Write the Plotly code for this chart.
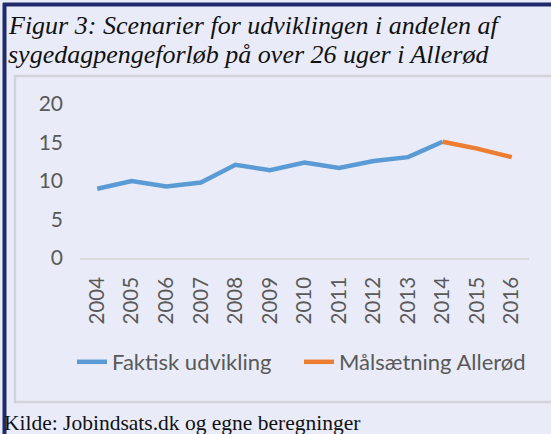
import plotly.graph_objects as go

# Years on the category axis
years = ["2004", "2005", "2006", "2007", "2008", "2009", "2010",
         "2011", "2012", "2013", "2014", "2015", "2016"]

# Actual development 2004-2014 (share of sickness benefit cases > 26 weeks)
actual_years = years[:11]
actual_values = [9.0, 10.0, 9.3, 9.8, 12.1, 11.4, 12.4, 11.7, 12.6, 13.1, 15.1]

# Allerød target 2014-2016
target_years = years[10:]
target_values = [15.1, 14.2, 13.1]

y_ticks = [0, 5, 10, 15, 20]

W, H = 551, 434
BG = "#E9ECF8"
NAVY = "#1E2A6B"
TICK_GRAY = "#595959"


def px_x(px):
    return px / W


def px_y(px):
    return 1 - px / H


fig = go.Figure()
fig.add_trace(go.Scatter(
    x=actual_years, y=actual_values, mode="lines",
    name="Faktisk udvikling",
    line=dict(color="#5B9BD5", width=4.5),
))
fig.add_trace(go.Scatter(
    x=target_years, y=target_values, mode="lines",
    name="Målsætning Allerød",
    line=dict(color="#ED7D31", width=4.5),
))

fig.update_layout(
    width=W, height=H,
    margin=dict(l=0, r=0, t=0, b=0, autoexpand=False),
    paper_bgcolor=BG, plot_bgcolor=BG,
    font=dict(family="Lato", color=TICK_GRAY, size=20),
    showlegend=True,
    legend=dict(
        orientation="h", x=px_x(299), xanchor="center",
        y=px_y(362), yanchor="middle",
        font=dict(family="Lato", size=22, color=TICK_GRAY),
        bgcolor="rgba(0,0,0,0)", itemwidth=30, tracegroupgap=0,
        entrywidth=182, entrywidthmode="pixels",
    ),
    xaxis=dict(
        type="category", categoryorder="array", categoryarray=years,
        range=[-0.5, 12.5],
        domain=[px_x(80), px_x(529)],
        showgrid=False, zeroline=False,
        showline=True, linecolor="#D9D9D9", linewidth=1.5,
        ticks="", tickangle=-90, ticklabelstandoff=9,
        tickfont=dict(family="Lato", size=20.5, color=TICK_GRAY),
    ),
    yaxis=dict(
        range=[0, 20], tickvals=y_ticks,
        domain=[px_y(258), px_y(104)],
        showgrid=False, zeroline=False, showline=False,
        ticks="", ticklabelstandoff=16,
        tickfont=dict(family="Lato", size=21, color=TICK_GRAY),
    ),
)

shapes = [
    # light gray frame around the chart
    dict(type="rect", xref="paper", yref="paper",
         x0=px_x(15), x1=px_x(570), y0=px_y(402), y1=px_y(76),
         line=dict(color="#D3D4D8", width=2.5), layer="below"),
    # navy page border, top and left
    dict(type="line", xref="paper", yref="paper",
         x0=px_x(3), x1=px_x(560), y0=px_y(4.5), y1=px_y(4.5),
         line=dict(color=NAVY, width=4)),
    dict(type="line", xref="paper", yref="paper",
         x0=px_x(4.5), x1=px_x(4.5), y0=px_y(3), y1=px_y(440),
         line=dict(color=NAVY, width=4)),
]
fig.update_layout(shapes=shapes)

title_font = dict(family="Liberation Serif", size=26, color="#111111")
fig.add_annotation(
    text="<i>Figur 3: Scenarier for udviklingen i andelen af</i>",
    xref="paper", yref="paper", x=px_x(6), y=px_y(25),
    xanchor="left", yanchor="middle", showarrow=False, font=title_font,
)
fig.add_annotation(
    text="<i>sygedagpengeforløb på over 26 uger i Allerød</i>",
    xref="paper", yref="paper", x=px_x(6), y=px_y(54),
    xanchor="left", yanchor="middle", showarrow=False, font=title_font,
)
fig.add_annotation(
    text="Kilde: Jobindsats.dk og egne beregninger",
    xref="paper", yref="paper", x=px_x(2), y=px_y(423),
    xanchor="left", yanchor="middle", showarrow=False,
    font=dict(family="Liberation Serif", size=21.5, color="#111111"),
)

fig.write_html("out.html")
